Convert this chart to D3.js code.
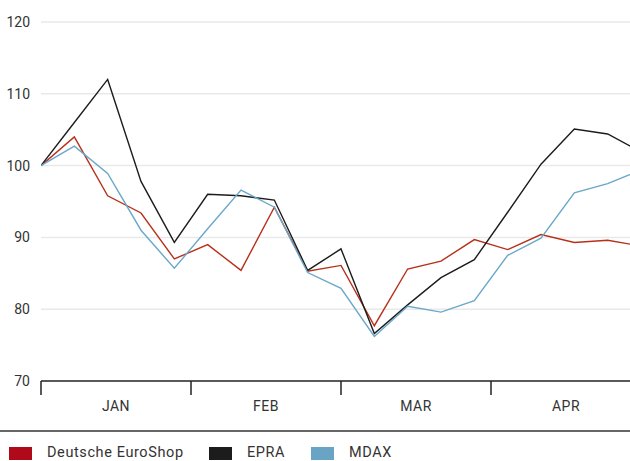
<!DOCTYPE html>
<html>
<head>
<meta charset="utf-8">
<script src="https://cdn.jsdelivr.net/npm/d3@7"></script>
<style>
  body { margin: 0; background: #fff; }
  svg { display: block; font-family: Roboto, "DejaVu Sans", sans-serif; }
</style>
</head>
<body>
<svg id="chart" width="630" height="461"></svg>
<script>
// weekly index values, Jan - Apr
const months = ['JAN', 'FEB', 'MAR', 'APR'];
const yTicks = [70, 80, 90, 100, 110, 120];
const euroShop = [100, 104.0, 95.8, 93.4, 87.0, 89.0, 85.4, 94.2, 85.3, 86.1, 77.7, 85.6, 86.7, 89.7, 88.3, 90.4, 89.3, 89.6, 88.8];
const epra = [100, 106.0, 112.0, 97.8, 89.3, 96.0, 95.8, 95.2, 85.4, 88.4, 76.6, 80.6, 84.4, 86.9, 93.5, 100.2, 105.1, 104.4, 101.9];
const mdax = [100, 102.7, 98.9, 91.0, 85.7, 91.2, 96.6, 94.2, 85.1, 82.9, 76.2, 80.4, 79.6, 81.2, 87.5, 89.9, 96.2, 97.5, 99.4];

const series = [
    { name: 'Deutsche EuroShop', values: euroShop, line: '#b8301a', swatch: '#b00a1a' },
    { name: 'EPRA', values: epra, line: '#1c1c1c', swatch: '#1c1c1c' },
    { name: 'MDAX', values: mdax, line: '#6aa8c9', swatch: '#6aa4c5' }
];

const svg = d3.select('#chart');
const plotL = 41, plotR = 630, plotT = 22, plotB = 381;
const weekW = 150 / 4.5;

const x = d3.scaleLinear().domain([0, euroShop.length - 1]).range([plotL, plotL + weekW * (euroShop.length - 1)]);
const y = d3.scaleLinear().domain([70, 120]).range([plotB, plotT]);
const xMonth = d3.scaleBand().domain(months).range([plotL, plotL + 600]);

// grid + y labels
svg.append('g')
    .selectAll('line')
    .data(yTicks.slice(1))
    .enter()
    .append('line')
    .attr('x1', plotL).attr('x2', plotR)
    .attr('y1', d => y(d)).attr('y2', d => y(d))
    .attr('stroke', '#e9e9e9')
    .attr('stroke-width', 1.5);

svg.append('g')
    .selectAll('text')
    .data(yTicks)
    .enter()
    .append('text')
    .attr('x', 30)
    .attr('y', d => y(d) + 5)
    .attr('text-anchor', 'end')
    .attr('font-size', 14)
    .attr('fill', '#333')
    .text(d => d);

// lines
svg.append('clipPath').attr('id', 'clip')
    .append('rect').attr('x', plotL).attr('y', 0).attr('width', plotR - plotL).attr('height', plotB);

const line = d3.line().x((d, i) => x(i)).y(d => y(d));

svg.append('g')
    .attr('clip-path', 'url(#clip)')
    .selectAll('path')
    .data(series)
    .enter()
    .append('path')
    .attr('d', d => line(d.values))
    .attr('fill', 'none')
    .attr('stroke', d => d.line)
    .attr('stroke-width', 1.4)
    .attr('stroke-linejoin', 'miter');

// x axis
const axis = svg.append('g').attr('stroke', '#222').attr('stroke-width', 1.5);
axis.append('line').attr('x1', plotL).attr('x2', plotR).attr('y1', plotB).attr('y2', plotB);
axis.selectAll('.tick')
    .data(months)
    .enter()
    .append('line')
    .attr('x1', d => xMonth(d)).attr('x2', d => xMonth(d))
    .attr('y1', plotB).attr('y2', plotB + 14);

svg.append('g')
    .selectAll('text')
    .data(months)
    .enter()
    .append('text')
    .attr('x', d => xMonth(d) + xMonth.bandwidth() / 2)
    .attr('y', 411)
    .attr('text-anchor', 'middle')
    .attr('font-size', 14)
    .attr('letter-spacing', 0.5)
    .attr('fill', '#333')
    .text(d => d);

// legend
svg.append('line')
    .attr('x1', 0).attr('x2', 630).attr('y1', 431).attr('y2', 431)
    .attr('stroke', '#333').attr('stroke-width', 1.5);

const legendX = [9, 209, 311];
const legend = svg.append('g')
    .selectAll('g')
    .data(series)
    .enter()
    .append('g')
    .attr('transform', (d, i) => `translate(${legendX[i]},447)`);

legend.append('rect')
    .attr('width', 23).attr('height', 13)
    .attr('fill', d => d.swatch);

legend.append('text')
    .attr('x', 38).attr('y', 10)
    .attr('font-size', 14.5)
    .attr('letter-spacing', 0.6)
    .attr('fill', '#333')
    .text(d => d.name);
</script>
</body>
</html>
